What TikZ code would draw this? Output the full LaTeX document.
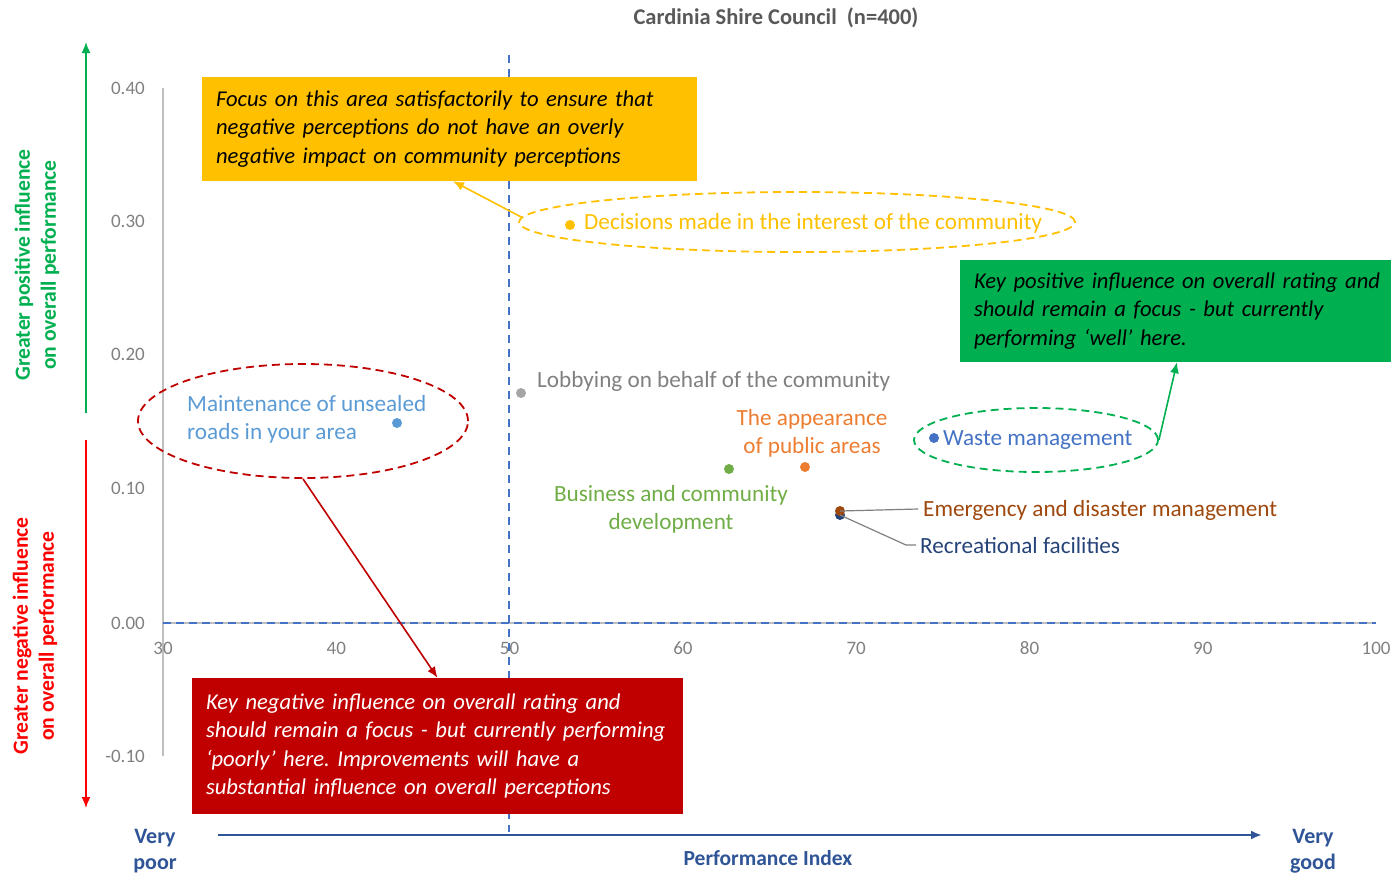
\documentclass[tikz,border=0pt]{standalone}
\usepackage{fontspec}
\setmainfont{Carlito}
\usetikzlibrary{arrows.meta,shapes.geometric,calc}
\definecolor{cYel}{HTML}{FFC000}
\definecolor{cGrn}{HTML}{00B050}
\definecolor{cRedBox}{HTML}{C00000}
\definecolor{cRed}{HTML}{FF0000}
\definecolor{cDash}{HTML}{4472C4}
\definecolor{cTick}{HTML}{808080}
\definecolor{cAxis}{HTML}{BFBFBF}
\definecolor{cMaint}{HTML}{5B9BD5}
\definecolor{cWaste}{HTML}{4472C4}
\definecolor{cLobP}{HTML}{A5A5A5}
\definecolor{cLobT}{HTML}{808080}
\definecolor{cApp}{HTML}{ED7D31}
\definecolor{cBus}{HTML}{70AD47}
\definecolor{cEmer}{HTML}{9E480E}
\definecolor{cRec}{HTML}{264478}
\definecolor{cPerf}{HTML}{2F5597}
\definecolor{cTitle}{HTML}{595959}
\frenchspacing
\begin{document}
\begin{tikzpicture}[x=1pt,y=-1pt,
  lbl/.style={inner sep=0pt,font=\fontsize{23.2}{28}\selectfont},
  tick/.style={inner sep=0pt,text=cTick,font=\fontsize{19}{20}\selectfont},
  boxnote/.style={inner xsep=14pt,inner ysep=0pt,align=left,font=\fontsize{22.6}{28.5}\selectfont\itshape},
  pt/.style={circle,inner sep=0pt,minimum size=10pt},
  dsh/.style={dash pattern=on 8pt off 5pt,line width=1.8pt},
  leader/.style={draw=gray,line width=1.2pt},
  tip/.style={-{Latex[length=11pt,width=9pt]}}
]
\useasboundingbox (0,0) rectangle (1391,876);
% title
\node[inner sep=0pt,text=cTitle,font=\fontsize{22.5}{24}\selectfont\bfseries] (title) at (776,18) {Cardinia Shire Council\ \ (n=400)};
% axes
\draw[cAxis,line width=1.5pt] (163,88) -- (163,756);
\draw[cAxis,line width=1.5pt] (163,623) -- (1376,623);
\draw[cDash,line width=1.5pt,dash pattern=on 8pt off 5pt] (163,623) -- (1376,623);
\draw[cDash,line width=1.5pt,dash pattern=on 8pt off 6pt] (509,55) -- (509,832);
% tick labels
\foreach \v/\yy in {0.40/88,0.30/221,0.20/354,0.10/488,0.00/623,-0.10/756}
  \node[tick,anchor=east] at (145,\yy) {\v};
\foreach \v in {30,40,...,100}
  \node[tick] at ({163+(\v-30)*17.33},648) {\v};
% side arrows and labels
\draw[cGrn,line width=1.6pt,tip] (86,413) -- (86,42);
\draw[cRed,line width=1.6pt,tip] (86,440) -- (86,808);
\node[rotate=90,align=center,inner sep=0pt,text=cGrn,font=\fontsize{21.6}{26}\selectfont\bfseries] (posl) at (37,265) {Greater positive influence\\on overall performance};
\node[rotate=90,align=center,inner sep=0pt,text=cRed,font=\fontsize{21.6}{26}\selectfont\bfseries] (negl) at (35,636) {Greater negative influence\\on overall performance};
% yellow group
\node[fill=cYel,boxnote,text width=467pt,minimum width=495pt,minimum height=104pt] (ybox) at (449.5,129) {Focus on this area satisfactorily to ensure that\\negative perceptions do not have an overly\\negative impact on community perceptions};
\node[ellipse,draw=cYel,dsh,minimum width=556pt,minimum height=60pt] (decE) at (797,222) {};
\node[pt,fill=cYel] (decP) at (570,225) {};
\node[lbl,anchor=west,text=cYel] (decT) at (584,223) {Decisions made in the interest of the community};
\draw[cYel,line width=1.6pt,tip] (decE.179) -- (ybox.south -| 453,0);
% green group
\node[fill=cGrn,boxnote,text width=410pt,minimum width=438pt,minimum height=102pt] (gbox) at (1179,311) {Key positive influence on overall rating and\\should remain a focus - but currently\\performing ‘well’ here.};
\node[ellipse,draw=cGrn,dsh,minimum width=244pt,minimum height=64pt] (wasteE) at (1036,440) {};
\node[pt,fill=cWaste] (wasteP) at (934,438) {};
\node[lbl,anchor=west,text=cWaste] (wasteT) at (943,440) {Waste management};
\draw[cGrn,line width=1.6pt,tip] (wasteE.east) -- (gbox.south -| 1177,0);
% red group
\node[fill=cRedBox,boxnote,text=white,text width=463pt,minimum width=491pt,minimum height=136pt] (rbox) at (437.5,746) {Key negative influence on overall rating and\\should remain a focus - but currently performing\\‘poorly’ here. Improvements will have a\\substantial influence on overall perceptions};
\node[ellipse,draw=cRedBox,dsh,minimum width=330pt,minimum height=114pt] (maintE) at (303,421) {};
\node[pt,fill=cMaint] (maintP) at (397,423) {};
\node[lbl,anchor=west,align=left,text=cMaint] (maintT) at (187,419) {Maintenance of unsealed\\roads in your area};
\draw[cRedBox,line width=1.6pt,tip] (maintE.south) -- (rbox.north);
% other points
\node[pt,fill=cLobP] (lobP) at (521,393) {};
\node[lbl,anchor=west,text=cLobT] (lobT) at (537,381) {Lobbying on behalf of the community};
\node[pt,fill=cApp] (appP) at (805,467) {};
\node[lbl,align=center,text=cApp] (appT) at (812,433) {The appearance\\of public areas};
\node[pt,fill=cBus] (busP) at (729,469) {};
\node[lbl,align=center,text=cBus] (busT) at (671,509) {Business and community\\development};
\node[pt,fill=cRec] (recP) at (840,515) {};
\node[pt,fill=cEmer] (emerP) at (840,511) {};
\node[lbl,anchor=west,text=cEmer] (emerT) at (923,510) {Emergency and disaster management};
\node[lbl,anchor=west,text=cRec] (recT) at (920,546) {Recreational facilities};
\draw[leader] (emerP.center) -- ($(emerT.west)+(-5,-1)$);
\draw[leader] (recP.center) -- ($(recT.west)+(-14,-1)$) -- ($(recT.west)+(-4,-1)$);
% performance axis
\draw[cPerf,line width=2.2pt,-{Latex[length=11pt,width=9pt]}] (218,835) -- (1262,835);
\node[align=center,inner sep=0pt,text=cPerf,font=\fontsize{22}{26}\selectfont\bfseries] (vpoor) at (155,851) {Very\\poor};
\node[align=center,inner sep=0pt,text=cPerf,font=\fontsize{22}{26}\selectfont\bfseries] (vgood) at (1313,851) {Very\\good};
\node[inner sep=0pt,text=cPerf,font=\fontsize{21.5}{24}\selectfont\bfseries] (perf) at (768,858) {Performance Index};
\end{tikzpicture}
\end{document}
